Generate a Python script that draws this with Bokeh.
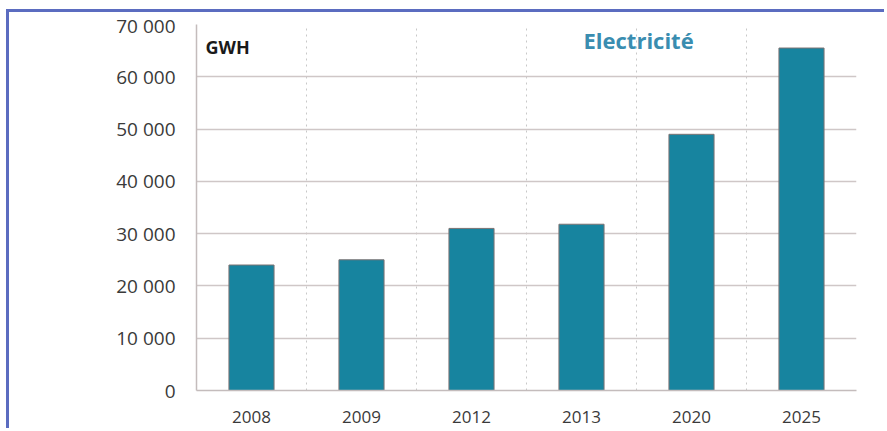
from bokeh.plotting import figure
from bokeh.models import Range1d, FixedTicker, Label, ColumnDataSource
from bokeh.embed import file_html
from bokeh.resources import INLINE

# ---- data ----
years = ["2008", "2009", "2012", "2013", "2020", "2025"]
values = [24000, 25000, 31000, 31800, 49000, 65500]
y_ticks = [0, 10000, 20000, 30000, 40000, 50000, 60000, 70000]
y_tick_labels = ["0", "10 000", "20 000", "30 000", "40 000", "50 000", "60 000", "70 000"]
unit_label = "GWH"
series_title = "Electricité"

centers = [i + 0.5 for i in range(len(years))]
bounds = [i + 1 for i in range(len(years))]

src = ColumnDataSource(dict(x=centers, top=values, year=years))

p = figure(
    width=878, height=419,
    x_range=Range1d(0, len(years)), y_range=Range1d(0, 70000),
    output_backend="svg", toolbar_location=None,
    min_border_left=187, min_border_top=12, min_border_right=31, min_border_bottom=41,
    background_fill_color="white", border_fill_color="white",
    styles={"border-top": "3px solid #5b6cc0", "border-left": "3px solid #5b6cc0",
            "margin-left": "6px", "margin-top": "9px"},
)
p.outline_line_color = None

p.vbar(x="x", top="top", width=0.41, source=src,
       fill_color="#17849f", line_color="#7d7373", line_width=1)

# y axis
p.yaxis.ticker = FixedTicker(ticks=y_ticks)
p.yaxis.major_label_overrides = {t: l for t, l in zip(y_ticks, y_tick_labels)}
p.yaxis.major_tick_out = 0
p.yaxis.major_tick_in = 0
p.yaxis.major_tick_line_color = None
p.yaxis.minor_tick_line_color = None
p.yaxis.axis_line_color = "#c4bcbc"
p.yaxis.axis_line_width = 1.5
p.yaxis.major_label_standoff = 21
p.yaxis.major_label_text_font = "Open Sans"
p.yaxis.major_label_text_font_size = "19px"
p.yaxis.major_label_text_color = "#3a3a3a"

# x axis
p.xaxis.ticker = FixedTicker(ticks=centers)
p.xaxis.major_label_overrides = {c: y for c, y in zip(centers, years)}
p.xaxis.major_tick_out = 0
p.xaxis.major_tick_in = 0
p.xaxis.major_tick_line_color = None
p.xaxis.minor_tick_line_color = None
p.xaxis.axis_line_color = "#c4bcbc"
p.xaxis.axis_line_width = 1.5
p.xaxis.major_label_standoff = 20
p.xaxis.major_label_text_font = "Open Sans"
p.xaxis.major_label_text_font_size = "17px"
p.xaxis.major_label_text_color = "#3a3a3a"

# grids
p.ygrid.ticker = FixedTicker(ticks=y_ticks)
p.ygrid.grid_line_color = "#cfc7c7"
p.ygrid.grid_line_width = 1.5
p.xgrid.ticker = FixedTicker(ticks=bounds)
p.xgrid.grid_line_color = "#c8c8c8"
p.xgrid.grid_line_dash = "2 4"
p.xgrid.grid_line_width = 1

p.add_layout(Label(x=9, y=332, x_units="screen", y_units="screen", text=unit_label,
                   text_font="Open Sans", text_font_style="bold", text_font_size="18px",
                   text_color="#1a1a1a"))
p.add_layout(Label(x=387, y=336, x_units="screen", y_units="screen", text=series_title,
                   text_font="Open Sans", text_font_style="bold", text_font_size="22px",
                   text_color="#3a8db0"))

open("out.html", "w").write(file_html(p, INLINE))
